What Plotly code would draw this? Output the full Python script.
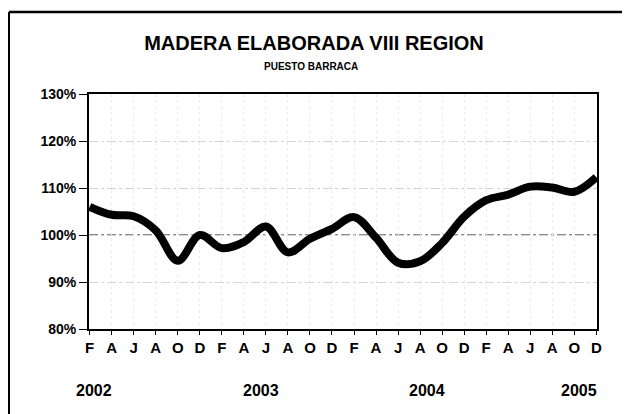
import plotly.graph_objects as go

# month labels every 2 months, Feb 2002 .. Dec 2005
meses = ["F", "A", "J", "A", "O", "D"] * 4
indice = [106.0, 104.3, 104.0, 101.0, 94.5, 100.0,
          97.2, 98.5, 101.8, 96.3, 99.2, 101.3,
          103.8, 99.4, 94.1, 94.4, 98.3, 103.9,
          107.4, 108.6, 110.3, 110.1, 109.2, 112.3]
anios = ["2002", "2003", "2004", "2005"]
anio_pos = [0.2, 7.8, 15.3, 22.2]

x = list(range(len(meses)))

# page body adds 8px; plot area wanted at screen 89..597 x 94..329
OFF = 8
L, R, T, B = 89, 597, 94, 329

fig = go.Figure()
fig.add_trace(go.Scatter(
    x=x, y=indice, mode="lines",
    line=dict(color="black", width=8, shape="spline", smoothing=1.0),
    hoverinfo="skip", showlegend=False,
))

font = "Liberation Sans, Arial, sans-serif"

fig.update_layout(
    width=630, height=414,
    margin=dict(l=L - OFF, r=630 - (R - OFF), t=T - OFF, b=414 - (B - OFF)),
    paper_bgcolor="white", plot_bgcolor="white",
    font=dict(family=font, color="black"),
    title=dict(text="<b>MADERA ELABORADA VIII REGION</b>",
               font=dict(size=20, family=font, color="black"),
               x=(314 - OFF) / 630, xanchor="center", xref="container",
               y=1 - (43 - OFF) / 414, yanchor="middle", yref="container"),
    xaxis=dict(range=[-0.03, 23.03], tickvals=x,
               ticktext=["<b>%s</b>" % m for m in meses],
               tickfont=dict(size=15), ticks="outside", ticklen=4,
               tickwidth=1, tickcolor="black",
               showline=True, linecolor="black", linewidth=2, mirror=True,
               showgrid=True, gridcolor="#ececec", griddash="dot", gridwidth=1,
               zeroline=False, fixedrange=True),
    yaxis=dict(range=[80, 130], tickvals=[80, 90, 100, 110, 120, 130],
               ticktext=["<b>%d%%</b>" % v for v in [80, 90, 100, 110, 120, 130]],
               tickfont=dict(size=14), ticks="outside", ticklen=8,
               tickwidth=1, tickcolor="black",
               showline=True, linecolor="black", linewidth=2, mirror=True,
               showgrid=True, gridcolor="#d4d4d4", griddash="dashdot", gridwidth=1,
               zeroline=False, fixedrange=True),
)

# darker reference line at 100%
fig.add_shape(type="line", xref="paper", yref="y", x0=0, x1=1, y0=100, y1=100,
              line=dict(color="#666666", width=1.5, dash="dashdot"), layer="below")

px = lambda v: (v - L) / (R - L)
py = lambda v: (B - v) / (B - T)

fig.add_annotation(text="<b>PUESTO BARRACA</b>", xref="paper", yref="paper",
                   x=px(311), y=py(67), showarrow=False,
                   font=dict(size=10, family=font, color="black"),
                   xanchor="center", yanchor="middle")

for a, p in zip(anios, anio_pos):
    fig.add_annotation(text="<b>%s</b>" % a, xref="x", yref="paper",
                       x=p, y=py(390), showarrow=False,
                       font=dict(size=16, family=font, color="black"),
                       xanchor="center", yanchor="middle")

# outer frame of the scanned chart
fig.add_shape(type="line", xref="paper", yref="paper",
              x0=px(9), x1=px(9), y0=py(12), y1=py(430), line=dict(color="black", width=2))
fig.add_shape(type="line", xref="paper", yref="paper",
              x0=px(9), x1=px(626), y0=py(12), y1=py(12), line=dict(color="black", width=2.5))
fig.add_shape(type="line", xref="paper", yref="paper",
              x0=px(626), x1=px(626), y0=py(11), y1=py(430), line=dict(color="black", width=7))

fig.write_html("out.html")
